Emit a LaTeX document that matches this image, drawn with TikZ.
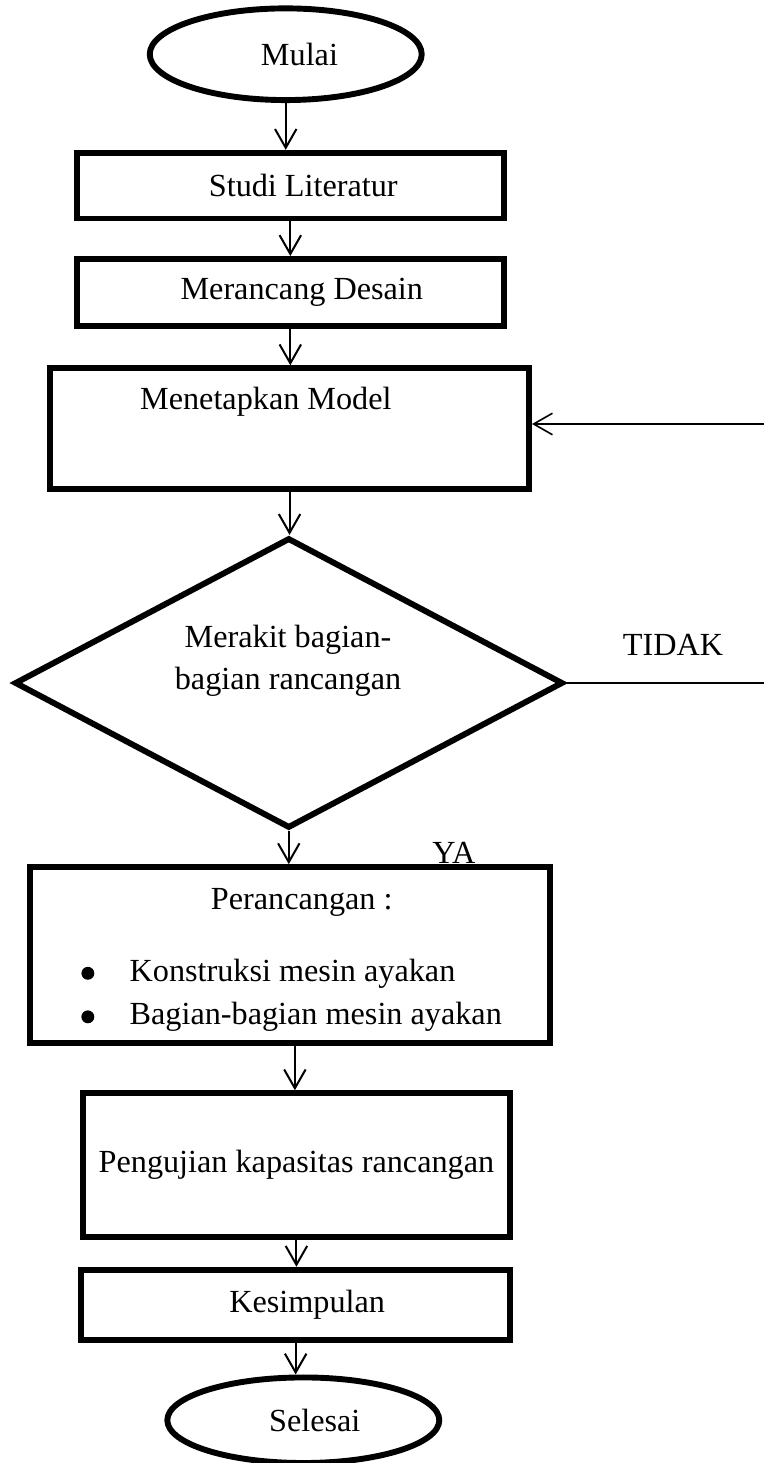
\documentclass[tikz,border=0pt]{standalone}
\usepackage{fontspec}
\setmainfont{Liberation Serif}
\usetikzlibrary{shapes.geometric,arrows.meta}
\begin{document}
\begin{tikzpicture}[font=\fontsize{12}{15.6}\selectfont,
  box/.style={draw,line width=2.2pt,inner sep=0pt},
  term/.style={draw,ellipse,line width=2.2pt,inner sep=0pt},
  dot/.style={circle,fill,inner sep=0pt,minimum size=4.8pt},
  arr/.style={->,line width=0.75pt},
  >={Straight Barb[length=7pt,width=8pt]}]
\useasboundingbox (0,0) rectangle (10,-19.15);

\node[term,minimum width=3.56cm,minimum height=1.2cm] (start) at (3.74,-0.71) {\hspace{0.36cm}Mulai};
\node[box,minimum width=5.59cm,minimum height=0.86cm] (studi) at (3.80,-2.43) {\hspace{0.34cm}Studi Literatur};
\node[box,minimum width=5.59cm,minimum height=0.88cm] (desain) at (3.80,-3.83) {\hspace{0.3cm}Merancang Desain};
\node[box,minimum width=6.27cm,minimum height=1.58cm] (model) at (3.79,-5.61) {};
\node (modeltxt) at (3.48,-5.26) {Menetapkan Model};

\node[draw,diamond,line width=2.2pt,inner sep=0pt,minimum width=7.18cm,minimum height=3.8cm] (rakit) at (3.78,-8.94) {};
\node[align=center] (rakittxt) at (3.77,-8.65) {Merakit bagian-\\bagian rancangan};
\node (tidak) at (8.81,-8.44) {TIDAK};
\node (ya) at (5.94,-11.17) {YA};

\node[box,minimum width=6.81cm,minimum height=2.30cm] (rancang) at (3.80,-12.50) {};
\node (rancangtxt) at (3.95,-11.81) {Perancangan :};
\node[dot] (b1) at (1.15,-12.74) {};
\node[right,inner sep=0pt] (k1) at (1.69,-12.74) {Konstruksi mesin ayakan};
\node[dot] (b2) at (1.15,-13.31) {};
\node[right,inner sep=0pt] (k2) at (1.69,-13.31) {Bagian-bagian mesin ayakan};

\node[box,minimum width=5.59cm,minimum height=1.88cm] (uji) at (3.88,-15.25) {Pengujian kapasitas rancangan\hspace{0.2cm}};
\node[box,minimum width=5.62cm,minimum height=0.92cm] (simpul) at (3.87,-17.08) {\hspace{0.3cm}Kesimpulan};
\node[term,minimum width=3.56cm,minimum height=1.12cm] (selesai) at (3.97,-18.59) {\hspace{0.3cm}Selesai};

\draw[arr] (start) -- (start |- studi.north);
\draw[arr] (studi) -- (studi |- desain.north);
\draw[arr] (desain) -- (desain |- model.north);
\draw[arr] (model) -- (model |- rakit.north);
\draw[arr] (rakit) -- (rakit |- rancang.north);
\draw[arr] ([xshift=0.06cm]rancang.south) -- ([xshift=0.06cm]rancang.south |- uji.north);
\draw[arr] (uji) -- (uji |- simpul.north);
\draw[arr] (simpul) -- (simpul |- selesai.north);

\coordinate (r1) at (10.3,-8.94);
\coordinate (r2) at (10.3,-5.55);
\draw[arr,line width=0.6pt] (rakit.east) -- (r1) -- (r2) -- (r2 -| model.east);
\end{tikzpicture}
\end{document}
